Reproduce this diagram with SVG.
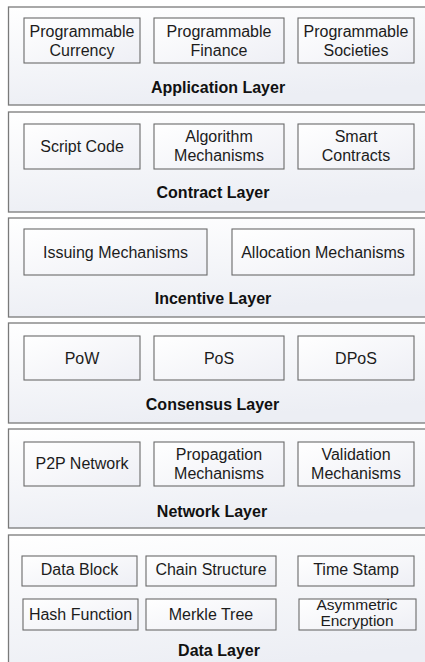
<svg xmlns="http://www.w3.org/2000/svg" width="425" height="662" viewBox="0 0 425 662">
<defs>
<linearGradient id="gOuter" x1="0" y1="0" x2="0.3" y2="1">
<stop offset="0" stop-color="#ffffff"/>
<stop offset="1" stop-color="#eceef4"/>
</linearGradient>
<linearGradient id="gInner" x1="0" y1="0" x2="1" y2="1">
<stop offset="0" stop-color="#ffffff"/>
<stop offset="1" stop-color="#eeeff5"/>
</linearGradient>
<style>
.layer{fill:url(#gOuter);stroke:#7a7a7a;stroke-width:1.3}
.box{fill:url(#gInner);stroke:#6a6a6a;stroke-width:1.1}
.t{font-family:"Liberation Sans",Arial,sans-serif;font-size:16px;fill:#1c1c1c;text-anchor:middle}
.lbl{font-family:"Liberation Sans",Arial,sans-serif;font-size:16px;font-weight:bold;fill:#111;text-anchor:middle}
</style>
</defs>
<rect width="425" height="662" fill="#ffffff"/>

<g id="application-layer">
<rect class="layer" x="8.5" y="7" width="430" height="98"/>
<text class="lbl" x="218" y="93">Application Layer</text>
</g>
<g id="programmable-currency"><rect class="box" x="24" y="18" width="116" height="45"/><text class="t" x="82" y="37">Programmable</text><text class="t" x="82" y="55.5">Currency</text></g>
<g id="programmable-finance"><rect class="box" x="154" y="18" width="130" height="45"/><text class="t" x="219" y="37">Programmable</text><text class="t" x="219" y="55.5">Finance</text></g>
<g id="programmable-societies"><rect class="box" x="298" y="18" width="116" height="45"/><text class="t" x="356" y="37">Programmable</text><text class="t" x="356" y="55.5">Societies</text></g>

<g id="contract-layer">
<rect class="layer" x="8.5" y="112" width="430" height="100"/>
<text class="lbl" x="213" y="198">Contract Layer</text>
</g>
<g id="script-code"><rect class="box" x="24" y="124" width="116" height="45"/><text class="t" x="82" y="152">Script Code</text></g>
<g id="algorithm-mechanisms"><rect class="box" x="154" y="124" width="130" height="45"/><text class="t" x="219" y="142">Algorithm</text><text class="t" x="219" y="160.5">Mechanisms</text></g>
<g id="smart-contracts"><rect class="box" x="298" y="124" width="116" height="45"/><text class="t" x="356" y="142">Smart</text><text class="t" x="356" y="160.5">Contracts</text></g>

<g id="incentive-layer">
<rect class="layer" x="8.5" y="218" width="430" height="99"/>
<text class="lbl" x="213" y="303.5">Incentive Layer</text>
</g>
<g id="issuing-mechanisms"><rect class="box" x="24" y="229" width="183" height="46"/><text class="t" x="115.5" y="258">Issuing Mechanisms</text></g>
<g id="allocation-mechanisms"><rect class="box" x="232" y="229" width="182" height="46"/><text class="t" x="323" y="258">Allocation Mechanisms</text></g>

<g id="consensus-layer">
<rect class="layer" x="8.5" y="323" width="430" height="100"/>
<text class="lbl" x="212.5" y="410">Consensus Layer</text>
</g>
<g id="pow"><rect class="box" x="24" y="336" width="116" height="44"/><text class="t" x="82" y="363.5">PoW</text></g>
<g id="pos"><rect class="box" x="154" y="336" width="130" height="44"/><text class="t" x="219" y="363.5">PoS</text></g>
<g id="dpos"><rect class="box" x="298" y="336" width="116" height="44"/><text class="t" x="356" y="363.5">DPoS</text></g>

<g id="network-layer">
<rect class="layer" x="8.5" y="429" width="430" height="99"/>
<text class="lbl" x="212" y="517">Network Layer</text>
</g>
<g id="p2p-network"><rect class="box" x="24" y="442" width="116" height="44"/><text class="t" x="82" y="468.5">P2P Network</text></g>
<g id="propagation-mechanisms"><rect class="box" x="154" y="442" width="130" height="44"/><text class="t" x="219" y="460">Propagation</text><text class="t" x="219" y="478.5">Mechanisms</text></g>
<g id="validation-mechanisms"><rect class="box" x="298" y="442" width="116" height="44"/><text class="t" x="356" y="460">Validation</text><text class="t" x="356" y="478.5">Mechanisms</text></g>

<g id="data-layer">
<rect class="layer" x="8.5" y="535" width="430" height="140"/>
<text class="lbl" x="219" y="656">Data Layer</text>
</g>
<g id="data-block"><rect class="box" x="22" y="556" width="115" height="30"/><text class="t" x="79.5" y="574.5">Data Block</text></g>
<g id="chain-structure"><rect class="box" x="146" y="556" width="130" height="30"/><text class="t" x="211" y="574.5">Chain Structure</text></g>
<g id="time-stamp"><rect class="box" x="298" y="556" width="116" height="30"/><text class="t" x="356" y="574.5">Time Stamp</text></g>
<g id="hash-function"><rect class="box" x="23" y="599" width="115" height="31"/><text class="t" x="80.5" y="619.5">Hash Function</text></g>
<g id="merkle-tree"><rect class="box" x="146" y="599" width="130" height="31"/><text class="t" x="211" y="619.5">Merkle Tree</text></g>
<g id="asymmetric-encryption"><rect class="box" x="299" y="599" width="117" height="31"/><text class="t" x="357" y="610" style="font-size:15.5px">Asymmetric</text><text class="t" x="357" y="625.5" style="font-size:15.5px">Encryption</text></g>

<g id="connectors"></g>
</svg>
